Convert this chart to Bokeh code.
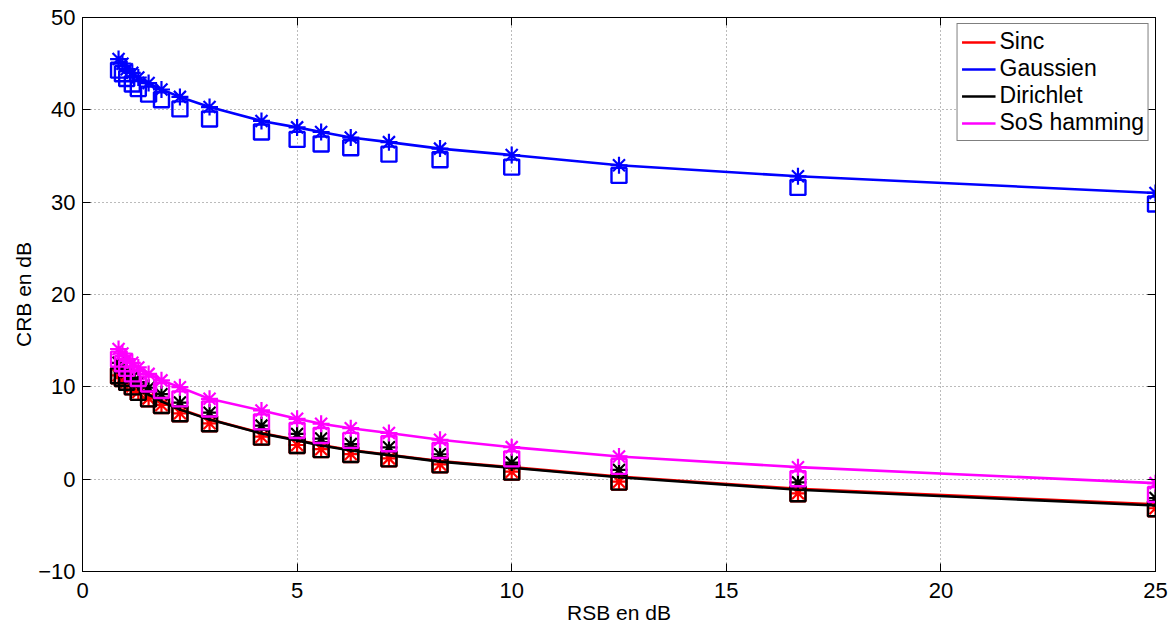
from bokeh.plotting import figure
from bokeh.models import Range1d, LinearAxis, FixedTicker, Legend, LegendItem
from bokeh.embed import file_html
from bokeh.resources import INLINE

# ---- data ----
rsb = [0.84, 0.93, 1.03, 1.16, 1.30, 1.54, 1.84, 2.27, 2.96, 4.17, 5.0, 5.56,
       6.25, 7.14, 8.33, 10.0, 12.5, 16.67, 25.0]

gauss_crb = [45.5, 45.0, 44.4, 44.0, 43.5, 42.9, 42.2, 41.4, 40.3, 38.8, 38.1, 37.6,
             37.0, 36.5, 35.8, 35.1, 34.0, 32.8, 31.0]
gauss_sq = [44.3, 43.9, 43.4, 42.8, 42.3, 41.7, 41.1, 40.1, 39.0, 37.6, 36.8, 36.3,
            35.9, 35.2, 34.6, 33.8, 32.9, 31.6, 29.8]

sos_crb = [14.1, 13.6, 13.0, 12.6, 12.1, 11.4, 10.7, 9.96, 8.7, 7.44, 6.54, 6.0,
           5.52, 5.0, 4.27, 3.47, 2.46, 1.3, -0.43]
sos_sq = [13.0, 12.5, 12.0, 11.4, 10.9, 10.3, 9.6, 8.7, 7.6, 6.2, 5.27, 4.73,
          4.2, 3.83, 3.1, 2.2, 1.38, 0.04, -1.66]

dir_crb = [11.65, 11.35, 10.95, 10.45, 9.85, 9.15, 8.43, 7.53, 6.45, 4.95, 4.2, 3.65,
           3.1, 2.6, 1.9, 1.23, 0.2, -1.15, -2.85]
dir_star = [12.6, 12.1, 11.6, 11.0, 10.5, 9.9, 9.2, 8.3, 7.2, 5.8, 4.9, 4.4,
            3.8, 3.45, 2.7, 1.8, 1.0, -0.35, -2.05]
dir_sq = [11.2, 10.9, 10.5, 10.0, 9.4, 8.7, 7.98, 7.08, 6.0, 4.55, 3.65, 3.2,
          2.67, 2.2, 1.55, 0.76, -0.32, -1.58, -3.2]

sinc_crb = [11.7, 11.4, 11.0, 10.5, 9.9, 9.2, 8.5, 7.6, 6.5, 5.0, 4.25, 3.7,
            3.15, 2.65, 1.95, 1.3, 0.28, -1.05, -2.72]
sinc_star = [11.25, 10.95, 10.55, 10.05, 9.45, 8.75, 8.03, 7.13, 6.05, 4.6, 3.7, 3.25,
             2.72, 2.25, 1.6, 0.81, -0.27, -1.53, -3.15]
sinc_sq = [11.2, 10.9, 10.5, 10.0, 9.4, 8.7, 7.98, 7.08, 6.0, 4.55, 3.65, 3.2,
           2.67, 2.2, 1.55, 0.76, -0.32, -1.58, -3.2]

series_names = ["Sinc", "Gaussien", "Dirichlet", "SoS hamming"]
series_colors = ["#FF0000", "#0000FF", "#000000", "#FF00FF"]

x_ticks = [0, 5, 10, 15, 20, 25]
y_ticks = [-10, 0, 10, 20, 30, 40, 50]

FONT = "Liberation Sans"

p = figure(frame_width=1073, frame_height=554, output_backend="svg",
           toolbar_location=None, x_range=Range1d(0, 25), y_range=Range1d(-10, 50),
           min_border_left=82, min_border_right=13, min_border_top=17,
           min_border_bottom=40)
p.background_fill_color = "white"
p.border_fill_color = "white"
p.outline_line_color = "black"
p.outline_line_width = 1

for ax in (p.xaxis[0], p.yaxis[0]):
    ax.major_tick_in = 8
    ax.major_tick_out = 0
    ax.minor_tick_in = 0
    ax.minor_tick_out = 0
    ax.axis_line_color = "black"
    ax.major_label_text_font = FONT
    ax.major_label_text_font_size = "22px"
    ax.major_label_text_color = "black"
    ax.axis_label_text_font = FONT
    ax.axis_label_text_font_size = "21px"
    ax.axis_label_text_font_style = "normal"
    ax.axis_label_text_color = "black"

p.xaxis[0].ticker = FixedTicker(ticks=x_ticks)
p.yaxis[0].ticker = FixedTicker(ticks=y_ticks)
p.yaxis[0].major_label_overrides = {-10: "\u221210"}
p.xaxis[0].axis_label = "RSB en dB"
p.yaxis[0].axis_label = "CRB en dB"
p.xaxis[0].major_label_standoff = 11
p.xaxis[0].axis_label_standoff = 0
p.yaxis[0].major_label_standoff = 7
p.yaxis[0].axis_label_standoff = 0

# box ticks on top and right (no labels)
top = LinearAxis(ticker=FixedTicker(ticks=x_ticks), major_tick_in=8, major_tick_out=0,
                 minor_tick_in=0, minor_tick_out=0,
                 major_label_overrides={t: "" for t in x_ticks},
                 major_label_text_font_size="1px",
                 major_label_standoff=0, axis_line_color="black")
right = LinearAxis(ticker=FixedTicker(ticks=y_ticks), major_tick_in=8, major_tick_out=0,
                   minor_tick_in=0, minor_tick_out=0,
                   major_label_overrides={t: "" for t in y_ticks},
                   major_label_text_font_size="1px",
                   major_label_standoff=0, axis_line_color="black")
p.add_layout(top, "above")
p.add_layout(right, "right")

for g in (p.xgrid[0], p.ygrid[0]):
    g.grid_line_color = "#777777"
    g.grid_line_dash = "1 3"
    g.grid_line_width = 1
p.xgrid[0].ticker = FixedTicker(ticks=x_ticks)
p.ygrid[0].ticker = FixedTicker(ticks=y_ticks)

LW = 2.6
MS_STAR = 17
MS_SQ = 15

items = []
groups = [
    (sinc_crb, sinc_star, sinc_sq),
    (gauss_crb, gauss_crb, gauss_sq),
    (dir_crb, dir_star, dir_sq),
    (sos_crb, sos_crb, sos_sq),
]
for name, col, (yl, ys, yq) in zip(series_names, series_colors, groups):
    r = p.line(rsb, yl, line_color=col, line_width=LW)
    p.scatter(rsb, ys, marker="asterisk", size=MS_STAR, line_color=col, line_width=2.2)
    p.scatter(rsb, yq, marker="square", size=MS_SQ, line_color=col, fill_color=None,
              line_width=2.4)
    items.append(LegendItem(label=name, renderers=[r]))

leg = Legend(items=items, location="top_right")
leg.label_text_font = FONT
leg.label_text_font_size = "23px"
leg.label_text_color = "black"
leg.glyph_width = 34
leg.glyph_height = 20
leg.label_height = 20
leg.label_standoff = 4
leg.spacing = 0
leg.padding = 4
leg.margin = 6
leg.border_line_color = "black"
leg.border_line_width = 1
leg.background_fill_color = "white"
leg.background_fill_alpha = 1.0
p.add_layout(leg, "center")

open("out.html", "w").write(file_html(p, INLINE))
